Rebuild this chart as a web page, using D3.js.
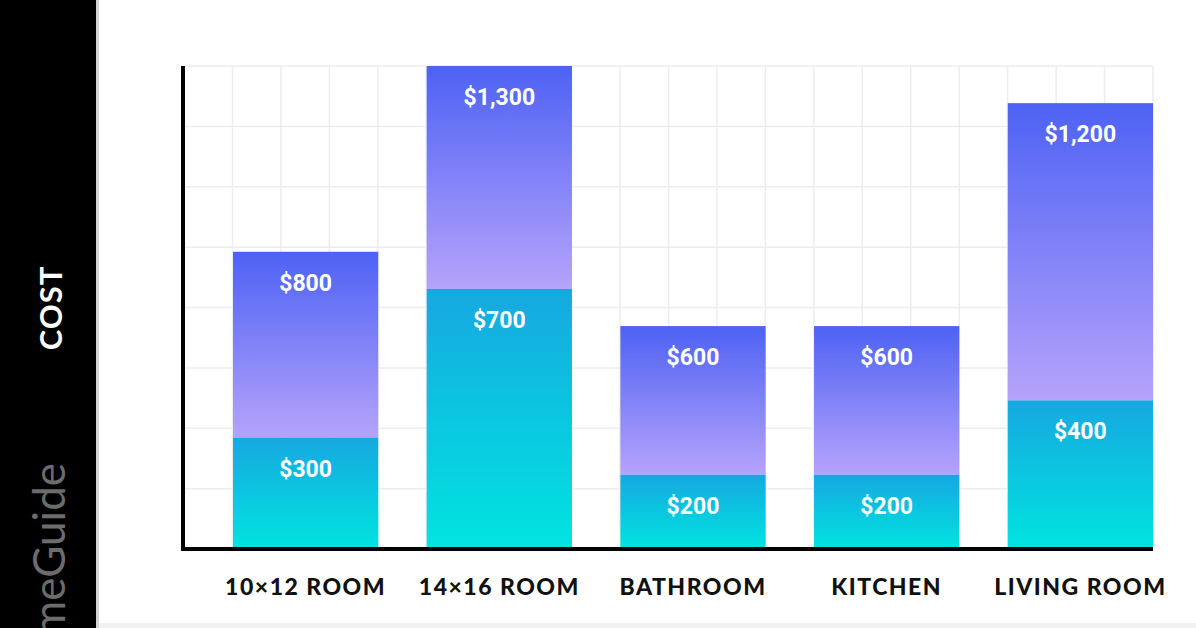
<!DOCTYPE html>
<html><head><meta charset="utf-8">
<script src="https://cdn.jsdelivr.net/npm/d3@7"></script>
<style>
html,body{margin:0;padding:0;background:#fff;}
svg{display:block;}
</style></head>
<body>
<svg id="chart" width="1196" height="628"></svg>
<script>
const categories = ["10×12 ROOM", "14×16 ROOM", "BATHROOM", "KITCHEN", "LIVING ROOM"];
const lowCost = [300, 700, 200, 200, 400];
const highCost = [800, 1300, 600, 600, 1200];
const yMax = 1300;
const yGridCount = 8;
const xGridCount = 20;
const axisTitle = "COST";
const watermark = "HomeGuide";

const svg = d3.select("#chart");
const W = 1196, H = 628;

// left black strip
svg.append("rect").attr("x",0).attr("y",0).attr("width",96).attr("height",H).attr("fill","#000");
svg.append("rect").attr("x",96).attr("y",0).attr("width",3).attr("height",H).attr("fill","#d4d4d4");
svg.append("rect").attr("x",99).attr("y",H-5).attr("width",W-99).attr("height",5).attr("fill","#f1f1f1");

svg.append("text").attr("transform","translate(62,308) rotate(-90)")
  .attr("text-anchor","middle").attr("fill","#fff")
  .style("font-family","Lato, 'Open Sans', sans-serif").style("font-weight","700")
  .style("font-size","31px").style("letter-spacing","1px").text(axisTitle);

svg.append("text").attr("transform","translate(65,463) rotate(-90)")
  .attr("text-anchor","end").attr("fill","#6c6c6c")
  .style("font-family","Lato, 'Open Sans', sans-serif").style("font-weight","400")
  .style("font-size","44px").text(watermark);

// partially visible title at top
svg.append("text").attr("x",645).attr("y",-1).attr("text-anchor","middle").attr("fill","#c4c4c4")
  .style("font-family","Lato, sans-serif").style("font-weight","700").style("font-size","24px")
  .style("letter-spacing","2px").text("CARPET INSTALLATION COST BY ROOM");

const x0 = 184, x1 = 1153, yTop = 66, yBase = 549;
const y = d3.scaleLinear().domain([0, yMax]).range([yBase, yTop]);
const x = d3.scaleBand().domain(categories).range([233, x1]).paddingInner(0.25).paddingOuter(0);
const gx = d3.scaleLinear().domain([0, xGridCount]).range([x0, x1]);

// grid
const grid = svg.append("g");
grid.selectAll("line.h").data(d3.range(1, yGridCount+1)).join("line")
  .attr("x1",x0).attr("x2",x1)
  .attr("y1",d=>y(d*yMax/yGridCount)).attr("y2",d=>y(d*yMax/yGridCount))
  .attr("stroke","#ededed").attr("stroke-width",1.5);
grid.selectAll("line.v").data(d3.range(1, xGridCount+1)).join("line")
  .attr("x1",d=>gx(d)).attr("x2",d=>gx(d))
  .attr("y1",yTop).attr("y2",yBase)
  .attr("stroke","#ededed").attr("stroke-width",1.5);

// gradients
const defs = svg.append("defs");
const gTop = defs.append("linearGradient").attr("id","gTop").attr("x1",0).attr("y1",0).attr("x2",0).attr("y2",1);
gTop.append("stop").attr("offset","0%").attr("stop-color","#4d62f4");
gTop.append("stop").attr("offset","100%").attr("stop-color","#b6a3fb");
const gBot = defs.append("linearGradient").attr("id","gBot").attr("x1",0).attr("y1",0).attr("x2",0).attr("y2",1);
gBot.append("stop").attr("offset","0%").attr("stop-color","#16a8e0");
gBot.append("stop").attr("offset","100%").attr("stop-color","#00e4e0");

const data = categories.map((c,i)=>({c, lo: lowCost[i], hi: highCost[i]}));

const bars = svg.append("g");
bars.selectAll("rect.hi").data(data).join("rect")
  .attr("x",d=>x(d.c)).attr("width",x.bandwidth())
  .attr("y",d=>y(d.hi)).attr("height",d=>y(d.lo)-y(d.hi))
  .attr("fill","url(#gTop)");
bars.selectAll("rect.lo").data(data).join("rect")
  .attr("x",d=>x(d.c)).attr("width",x.bandwidth())
  .attr("y",d=>y(d.lo)).attr("height",d=>y(0)-y(d.lo))
  .attr("fill","url(#gBot)");

const fmt = d3.format("$,");
const lab = svg.append("g").style("font-family","Roboto, 'Open Sans', sans-serif")
  .style("font-weight","700").style("font-size","23px").attr("fill","#fff").attr("text-anchor","middle");
lab.selectAll("text.hi").data(data).join("text")
  .attr("x",d=>x(d.c)+x.bandwidth()/2).attr("y",d=>y(d.hi)+39).text(d=>fmt(d.hi));
lab.selectAll("text.lo").data(data).join("text")
  .attr("x",d=>x(d.c)+x.bandwidth()/2).attr("y",d=>y(d.lo)+39).text(d=>fmt(d.lo));

// axes lines
svg.append("line").attr("x1",183).attr("x2",183).attr("y1",yTop).attr("y2",yBase+2)
  .attr("stroke","#000").attr("stroke-width",4);
svg.append("line").attr("x1",181).attr("x2",x1).attr("y1",yBase).attr("y2",yBase)
  .attr("stroke","#000").attr("stroke-width",4);

// category labels
svg.append("g").selectAll("text").data(categories).join("text")
  .attr("x",d=>x(d)+x.bandwidth()/2).attr("y",595).attr("text-anchor","middle")
  .attr("fill","#111").style("font-family","Lato, sans-serif").style("font-weight","900")
  .style("font-size","23px").style("letter-spacing","1.5px").text(d=>d);
</script>
</body></html>
